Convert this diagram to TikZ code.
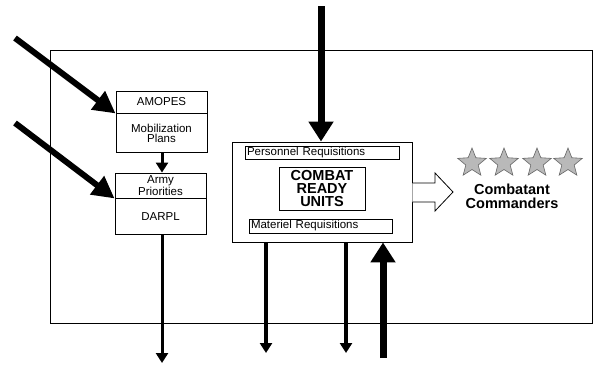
\documentclass[tikz,border=0pt]{standalone}
\usepackage{fontspec}
\setmainfont{Liberation Sans}
\usetikzlibrary{arrows.meta,shapes.geometric}
\tikzset{
  box/.style={draw,line width=0.9pt,inner sep=0pt,align=center,font=\fontsize{11.5}{10}\selectfont},
  bigarrow/.style={line width=7pt,-{Triangle[length=20pt,width=24pt]}},
  diagarrow/.style={line width=6pt,-{Triangle[length=22pt,width=22pt]}},
  thinarrow/.style={line width=3.5pt,-{Triangle[length=10pt,width=12pt]}},
  starstyle/.style={star,star points=5,star point ratio=2.3,minimum size=30pt,inner sep=0pt,fill=gray!55,draw=gray!80!black,line width=0.6pt},
}
\begin{document}
\begin{tikzpicture}[x=1pt,y=-1pt]
\useasboundingbox (0,0) rectangle (593,364);
\fill[white] (0,0) rectangle (593,364);
% outer frame
\node[draw,line width=0.9pt,minimum width=542pt,minimum height=273pt,inner sep=0pt] (outer) at (321,186.5) {};
% AMOPES box
\node[box,minimum width=91pt,minimum height=22pt] (amopes) at (161.5,102) {AMOPES};
\node[box,minimum width=91pt,minimum height=39pt,anchor=north] (mob) at (amopes.south) {Mobilization\\Plans};
% Army box
\node[box,minimum width=91pt,minimum height=25pt] (army) at (160.5,185.5) {Army\\Priorities};
\node[box,minimum width=91pt,minimum height=36pt,anchor=north] (darpl) at (army.south) {DARPL};
% central box
\node[draw,line width=0.9pt,minimum width=180pt,minimum height=100pt,inner sep=0pt] (central) at (322,192) {};
\node[box,minimum width=154pt,minimum height=13pt,text width=150pt,align=left] (pers) at (322,152.5) {Personnel Requisitions};
\node[box,minimum width=86pt,minimum height=43pt,font=\bfseries\fontsize{14.5}{13.2}\selectfont] (combat) at (322,188.5) {COMBAT\\READY\\UNITS};
\node[box,minimum width=143pt,minimum height=14pt,text width=139pt,align=left] (mat) at (320.5,226) {Materiel Requisitions};
% stars and label
\foreach \i/\x in {1/472,2/504,3/537,4/568}{
  \node[starstyle] (s\i) at (\x,163) {};
}
\node[font=\bfseries\fontsize{14.5}{14}\selectfont,align=center] (cc) at (512,196) {Combatant\\Commanders};
% hollow arrow
\draw[line width=0.8pt,fill=white] (central.east |- 0,183) -- (435,183) -- (435,173) -- (453,192) -- (435,211) -- (435,202) -- (central.east |- 0,202);
% coordinates for free ends
\coordinate (topstart) at (321,6);
\coordinate (l1) at (15,38);
\coordinate (l2) at (15,123);
\coordinate (dend) at (162,363);
\coordinate (o1) at (266,353);
\coordinate (o2) at (346,353);
\coordinate (upstart) at (383,358);
% arrows
\draw[bigarrow] (topstart) -- (topstart |- central.north);
\draw[diagarrow] (l1) -- (amopes.south west);
\draw[diagarrow] (l2) -- (army.south west);
\draw[thinarrow,line width=3pt] (mob.south -| 162,0) -- (army.north -| 162,0);
\draw[thinarrow,line width=3pt] (darpl.south -| dend) -- (dend);
\draw[thinarrow] (o1 |- central.south) -- (o1);
\draw[thinarrow] (o2 |- central.south) -- (o2);
\draw[bigarrow] (upstart) -- (upstart |- central.south);
\end{tikzpicture}
\end{document}
